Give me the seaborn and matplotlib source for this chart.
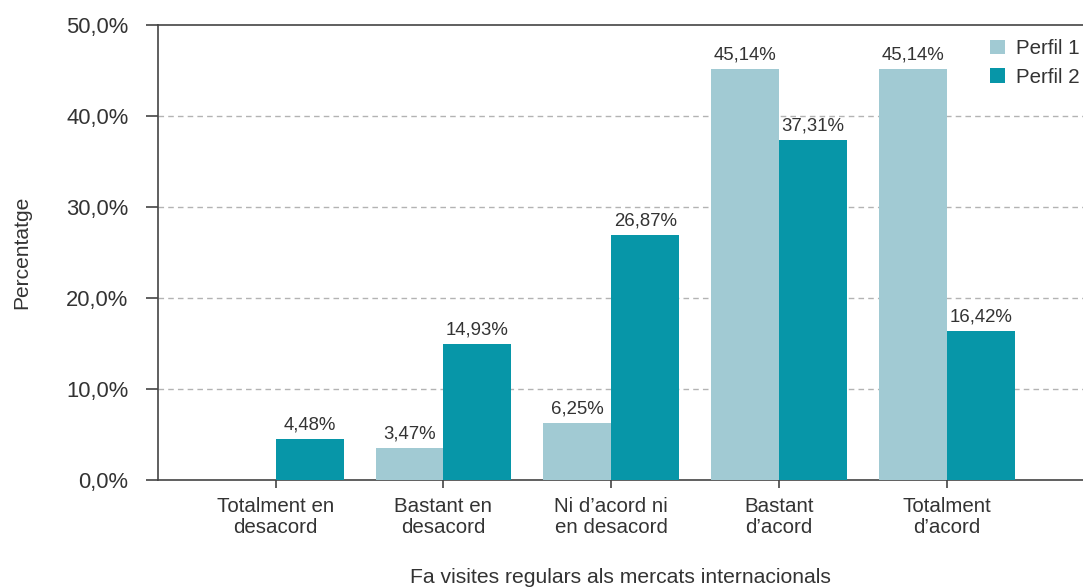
import matplotlib
matplotlib.use("Agg")
import matplotlib.pyplot as plt
import seaborn as sns
import pandas as pd

categories = [
    "Totalment en\ndesacord",
    "Bastant en\ndesacord",
    "Ni d\u2019acord ni\nen desacord",
    "Bastant\nd\u2019acord",
    "Totalment\nd\u2019acord",
]
perfil_1 = [0.0, 3.47, 6.25, 45.14, 45.14]
perfil_2 = [4.48, 14.93, 26.87, 37.31, 16.42]
series_names = ["Perfil 1", "Perfil 2"]
y_ticks = [0, 10, 20, 30, 40, 50]

colors = ["#a1cad3", "#0796a8"]
text_color = "#333333"
spine_color = "#444444"

sns.set_theme(style="white")
plt.rcParams["font.family"] = ["Liberation Sans", "DejaVu Sans"]

df = pd.DataFrame({
    "categoria": categories * 2,
    "valor": perfil_1 + perfil_2,
    "perfil": [series_names[0]] * len(categories) + [series_names[1]] * len(categories),
})

fig = plt.figure(figsize=(10.83, 5.88), dpi=100)
ax = fig.add_axes([0.1456, 0.1837, 1.0 - 0.1456, 0.9575 - 0.1837])

sns.barplot(
    data=df, x="categoria", y="valor", hue="perfil",
    order=categories, hue_order=series_names,
    palette=colors, width=0.81, saturation=1, ax=ax,
    errorbar=None, zorder=3, linewidth=0, edgecolor="none",
)

# value labels above each non-zero bar
for container in ax.containers:
    labels = [
        "" if bar.get_height() == 0 else f"{bar.get_height():.2f}%".replace(".", ",")
        for bar in container
    ]
    ax.bar_label(container, labels=labels, padding=4, fontsize=13.4, color=text_color)

ax.set_xlim(-0.703, 4.811)
ax.set_ylim(0, 50)
ax.set_yticks(y_ticks)
ax.set_yticklabels([f"{v:.1f}%".replace(".", ",") for v in y_ticks])
for lbl in ax.get_xticklabels():
    lbl.set_linespacing(1.18)

for v in y_ticks[1:-1]:
    ax.axhline(v, color="#b3b3b3", linestyle=(0, (4, 3)), linewidth=1.0, zorder=1)

ax.spines["right"].set_visible(False)
for side in ("left", "top", "bottom"):
    ax.spines[side].set_color(spine_color)
    ax.spines[side].set_linewidth(1.2)

ax.tick_params(axis="y", length=9, width=1.2, color=spine_color,
               labelsize=15.8, labelcolor=text_color, pad=12, left=True)
ax.tick_params(axis="x", length=6, width=1.2, color=spine_color,
               labelsize=14.8, labelcolor=text_color, pad=6, bottom=True)

ax.set_xlabel("Fa visites regulars als mercats internacionals",
              fontsize=15.2, color=text_color, labelpad=22)
ax.set_ylabel("Percentatge", fontsize=15.1, color=text_color, labelpad=25)

leg = ax.legend(
    loc="upper right", bbox_to_anchor=(1.012, 1.0), frameon=False,
    fontsize=14.8, handlelength=0.7, handleheight=0.7,
    handletextpad=0.55, labelspacing=0.45, borderaxespad=0.3,
    title=None,
)
for t in leg.get_texts():
    t.set_color(text_color)

fig.savefig("out.png", dpi=100)
